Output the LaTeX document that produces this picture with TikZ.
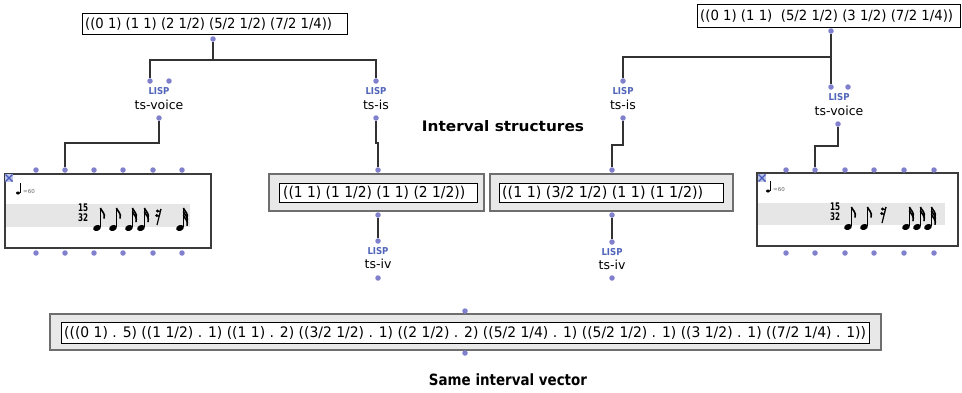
\documentclass[tikz,border=0pt]{standalone}
\usepackage{fontspec}
\setmainfont{DejaVu Sans}
\usepackage{graphicx}
\usetikzlibrary{calc}
\definecolor{dotc}{RGB}{128,128,205}
\definecolor{lispc}{RGB}{80,100,185}
\definecolor{wirec}{RGB}{50,50,50}
\definecolor{panelc}{RGB}{232,232,232}
\definecolor{panelb}{RGB}{110,110,110}
\definecolor{bandc}{RGB}{230,230,230}
\definecolor{scoreb}{RGB}{60,60,60}
\definecolor{xblue}{RGB}{70,90,190}
\newcommand{\fitw}[2]{\resizebox{#1pt}{\height}{#2}}
% music note: x, y (head centre), number of flags
\newcommand{\mnote}[3]{%
  \fill[rotate around={20:(#1,#2)}] (#1,#2) ellipse [x radius=4, y radius=2.9];
  \draw[line width=1.1pt] (#1+3.4,#2-1) -- (#1+3.4,#2-20);
  \foreach \k in {1,...,#3}{%
    \draw[line width=1.6pt] (#1+3.4,#2-20+3.6*\k-3.6) .. controls (#1+5,#2-16+3.6*\k-3.6) and (#1+8.5,#2-15+3.6*\k-3.6) .. (#1+7,#2-9.5+3.6*\k-3.6);}%
}
\newcommand{\mtempo}[2]{%
  \fill (#1,#2) ellipse [x radius=2, y radius=1.5];
  \draw[line width=0.6pt] (#1+1.8,#2) -- (#1+1.8,#2-10);
  \node[anchor=west,inner sep=0pt,text=black!60,font=\fontsize{5.5}{6}\selectfont] at (#1+5,#2-1.5) {=60};
}
\newcommand{\mrest}[2]{%
  \draw[line width=1.2pt] (#1+4,#2-16) -- (#1,#2);
  \fill (#1+0.5,#2-14) circle (1.6);
  \fill (#1-0.3,#2-9.5) circle (1.6);
  \draw[line width=1pt] (#1+0.5,#2-14) .. controls (#1+1.5,#2-12.5) and (#1+3,#2-13) .. (#1+4,#2-16);
  \draw[line width=1pt] (#1-0.3,#2-9.5) .. controls (#1+0.7,#2-8) and (#1+2.2,#2-8.5) .. (#1+3,#2-11.5);
}
\newcommand{\mtimesig}[2]{%
  \node[inner sep=0pt,font=\fontsize{10.5}{11}\selectfont\bfseries] at (#1,#2-5) {\fitw{10}{15}};
  \node[inner sep=0pt,font=\fontsize{10.5}{11}\selectfont\bfseries] at (#1,#2+5) {\fitw{10}{32}};
}
\newcommand{\xicon}[2]{%
  \fill[xblue!35] (#1-4,#2-4) rectangle (#1+4,#2+4);
  \draw[xblue,line width=1.3pt] (#1-3.5,#2-3.5) -- (#1+3.5,#2+3.5) (#1-3.5,#2+3.5) -- (#1+3.5,#2-3.5);
}
\begin{document}
\begin{tikzpicture}[x=1pt,y=-1pt,
  dot/.style={circle,fill=dotc,inner sep=0pt,minimum size=5.5pt},
  wire/.style={draw=wirec,line width=1.2pt},
  lbl/.style={inner sep=0pt,font=\fontsize{12.5}{13}\selectfont},
  lisp/.style={inner sep=0pt,text=lispc,font=\fontsize{9.5}{10}\selectfont\bfseries},
  txt/.style={inner sep=0pt,anchor=west,font=\fontsize{14}{15}\selectfont},
  topbox/.style={draw=black,line width=1pt,fill=white,inner sep=0pt},
  panel/.style={draw=panelb,line width=1.2pt,fill=panelc,inner sep=0pt},
  inbox/.style={draw=black,line width=0.9pt,fill=white,inner sep=0pt},
  score/.style={draw=scoreb,line width=1.2pt,fill=white,inner sep=0pt},
  title/.style={inner sep=0pt,font=\fontsize{14.5}{15}\selectfont\bfseries}]
\useasboundingbox (0,0) rectangle (962,392);

% ---------- top data boxes ----------
\node[topbox,minimum width=265pt,minimum height=21pt] (TL) at (214.5,23.5) {};
\node[txt] (TLt) at (85,24) {\fitw{247}{((0 1) (1 1) (2 1/2) (5/2 1/2) (7/2 1/4))}};
\node[dot] (TLo) at (213,39) {};

\node[topbox,minimum width=263pt,minimum height=23pt] (TR) at (828.5,15.5) {};
\node[txt] (TRt) at (700,16) {\fitw{253}{((0 1) (1 1)\ \ (5/2 1/2) (3 1/2) (7/2 1/4))}};
\node[dot] (TRo) at (831,31) {};

% ---------- LISP functions ----------
% left ts-voice
\node[dot] (A1) at (150,81) {};
\node[dot] (A2) at (169,81) {};
\node[lisp] (Al) at (159,91) {\fitw{21}{LISP}};
\node[lbl] (An) at (159,105) {ts-voice};
\node[dot] (Ao) at (159,118) {};
% left ts-is
\node[dot] (B1) at (376,81) {};
\node[lisp] (Bl) at (376,91) {\fitw{21}{LISP}};
\node[lbl] (Bn) at (376,105) {ts-is};
\node[dot] (Bo) at (376,118) {};
% right ts-is
\node[dot] (E1) at (623,81) {};
\node[lisp] (El) at (623,91) {\fitw{21}{LISP}};
\node[lbl] (En) at (623,105) {ts-is};
\node[dot] (Eo) at (623,118) {};
% right ts-voice
\node[dot] (F1) at (831,87) {};
\node[dot] (F2) at (848,87) {};
\node[lisp] (Fl) at (839,97) {\fitw{21}{LISP}};
\node[lbl] (Fn) at (839,111) {ts-voice};
\node[dot] (Fo) at (838,124) {};

\node[title] (T1) at (503,126) {\fitw{162}{Interval structures}};

% ---------- score boxes ----------
\node[score,minimum width=206pt,minimum height=74pt] (SL) at (108,211) {};
\fill[bandc] (6,204) rectangle (190,227);
\xicon{9}{178}
\mtempo{18}{193}
\mtimesig{83}{213}
\mnote{97}{228}{1}
\mnote{113}{228}{1}
\mnote{129}{228}{2}
\mnote{141}{228}{2}
\mrest{157}{225}
\mnote{180}{228}{3}
\foreach \i/\x in {1/36,2/65,3/94,4/123,5/153,6/182}{
  \node[dot] (SLi\i) at (\x,170) {};
  \node[dot] (SLo\i) at (\x,253) {};
}

\node[score,minimum width=201pt,minimum height=73pt] (SR) at (857.5,209.5) {};
\fill[bandc] (758,203) rectangle (945,225);
\xicon{762}{178}
\mtempo{768}{191}
\mtimesig{835}{212}
\mnote{848}{227}{1}
\mnote{864}{227}{1}
\mrest{882}{223}
\mnote{906}{227}{2}
\mnote{917}{227}{2}
\mnote{928}{227}{3}
\foreach \i/\x in {1/786,2/815,3/845,4/874,5/904,6/934}{
  \node[dot] (SRi\i) at (\x,170) {};
  \node[dot] (SRo\i) at (\x,253) {};
}

% ---------- interval structure boxes ----------
\node[panel,minimum width=215pt,minimum height=37pt] (M1) at (376.5,192.5) {};
\node[inbox,minimum width=198pt,minimum height=19pt] (M1b) at (378,192.5) {};
\node[txt,font=\fontsize{15}{16}\selectfont] (M1t) at (283,193) {\fitw{182}{((1 1) (1 1/2) (1 1) (2 1/2))}};
\node[dot] (M1i) at (378,170) {};
\node[dot] (M1o) at (378,215) {};

\node[panel,minimum width=243pt,minimum height=37pt] (M2) at (611.5,192.5) {};
\node[inbox,minimum width=224pt,minimum height=19pt] (M2b) at (611,192.5) {};
\node[txt,font=\fontsize{15}{16}\selectfont] (M2t) at (502,193) {\fitw{201}{((1 1) (3/2 1/2) (1 1) (1 1/2))}};
\node[dot] (M2i) at (612,170) {};
\node[dot] (M2o) at (612,215) {};

% ts-iv functions
\node[dot] (C1) at (378,241) {};
\node[lisp] (Cl) at (378,251) {\fitw{21}{LISP}};
\node[lbl] (Cn) at (378,264) {ts-iv};
\node[dot] (Co) at (378,278) {};

\node[dot] (D1) at (612,242) {};
\node[lisp] (Dl) at (612,252) {\fitw{21}{LISP}};
\node[lbl] (Dn) at (612,265) {ts-iv};
\node[dot] (Do) at (612,278) {};

% ---------- bottom interval vector ----------
\node[panel,minimum width=831pt,minimum height=36pt] (V) at (465.5,332) {};
\node[inbox,minimum width=808pt,minimum height=21pt] (Vb) at (465,332.5) {};
\node[txt,font=\fontsize{14.5}{16}\selectfont] (Vt) at (64,333) {\fitw{802}{(((0 1) . 5) ((1 1/2) . 1) ((1 1) . 2) ((3/2 1/2) . 1) ((2 1/2) . 2) ((5/2 1/4) . 1) ((5/2 1/2) . 1) ((3 1/2) . 1) ((7/2 1/4) . 1))}};
\node[dot] (Vi) at (465,311) {};
\node[dot] (Vo) at (465,353) {};
\node[title,font=\fontsize{15.5}{16}\selectfont\bfseries] (T2) at (508,380) {\fitw{158}{Same interval vector}};

% ---------- connectors ----------
\coordinate (j1) at (213,60);
\draw[wire] (TLo) -- (j1) -| (A1);
\draw[wire] (j1) -| (B1);
\coordinate (j2) at (159,143);
\draw[wire] (Ao) -- (j2) -| (SLi2);
\coordinate (j3) at (376,143);
\draw[wire] (Bo) -- (j3) -| (M1i);
\draw[wire] (M1o) -- (C1);

\coordinate (j4) at (831,57);
\draw[wire] (TRo) -- (j4) -| (E1);
\draw[wire] (j4) -- (F1);
\coordinate (j5) at (623,145);
\draw[wire] (Eo) -- (j5) -| (M2i);
\coordinate (j6) at (838,146);
\draw[wire] (Fo) -- (j6) -| (SRi2);
\draw[wire] (M2o) -- (D1);
\end{tikzpicture}
\end{document}
